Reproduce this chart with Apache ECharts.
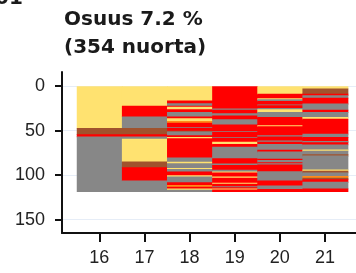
<!DOCTYPE html>
<html>
<head>
<meta charset="utf-8">
<script src="https://cdn.jsdelivr.net/npm/echarts@6/dist/echarts.min.js"></script>
<style>
  html, body { margin: 0; padding: 0; background: #fff; }
  #chart { width: 356px; height: 273px; }
</style>
</head>
<body>
<div id="chart"></div>
<script>
// ages on the x axis and tick values on the y axis
const ages = [16, 17, 18, 19, 20, 21];
const yTicks = [0, 50, 100, 150];

// states: Y = yellow, R = red, G = gray, B = brown, O = orange
const stateKeys = ['Y', 'R', 'G', 'B', 'O'];
const stateColors = ['#ffe270', '#ff0000', '#878787', '#a0522d', '#ff8c1a'];

// runs per age, from top to bottom: [state, length]
const runs16 = [['Y', 47], ['B', 7], ['R', 2.5], ['G', 61.5]];
const runs17 = [['Y', 22], ['R', 12], ['G', 13], ['B', 7], ['R', 2.5], ['G', 2.5],
  ['Y', 25.5], ['B', 6.5], ['R', 15], ['G', 12]];
const runs18 = [['Y', 16], ['R', 3], ['G', 3], ['R', 1], ['Y', 3], ['R', 3], ['G', 5],
  ['R', 2], ['Y', 3], ['O', 2], ['R', 5], ['G', 1], ['R', 3], ['B', 1], ['G', 4],
  ['R', 2], ['Y', 1.5], ['R', 21.5], ['G', 5], ['Y', 1.5], ['G', 5.5], ['Y', 1],
  ['G', 3], ['R', 4], ['Y', 1.5], ['G', 6.5], ['R', 3], ['O', 2], ['R', 2],
  ['Y', 1.5], ['G', 1.5]];
const runs19 = [['R', 25], ['G', 1.5], ['R', 4], ['G', 2.5], ['R', 4], ['G', 6],
  ['R', 7.5], ['G', 1], ['R', 5.5], ['G', 1], ['R', 4.5], ['Y', 2.5], ['R', 3],
  ['G', 13], ['R', 6], ['G', 1.5], ['R', 5.5], ['G', 2], ['Y', 1], ['R', 4.5],
  ['Y', 1.5], ['R', 5.5], ['Y', 1], ['R', 3], ['G', 1], ['R', 1.5], ['Y', 1],
  ['R', 2]];
const runs20 = [['Y', 8.5], ['R', 5], ['Y', 1], ['G', 2], ['R', 4], ['G', 1], ['R', 3],
  ['G', 1.5], ['Y', 3], ['G', 5.5], ['R', 9.5], ['Y', 1], ['R', 10], ['G', 1.5],
  ['R', 4.5], ['G', 1.5], ['R', 2.5], ['G', 6.5], ['R', 2], ['G', 8], ['R', 1.5],
  ['G', 2.5], ['R', 1], ['G', 1.5], ['R', 7.5], ['G', 10.5], ['R', 5.5], ['G', 4],
  ['R', 2.5]];
const runs21 = [['Y', 2.5], ['B', 6], ['R', 1.5], ['G', 3], ['R', 6.5], ['G', 7],
  ['R', 2.5], ['G', 5.5], ['Y', 2], ['R', 17], ['G', 3.5], ['R', 4.5], ['G', 1.5],
  ['R', 2.5], ['G', 5.5], ['Y', 1.5], ['G', 4], ['B', 1.5], ['G', 15.5], ['Y', 1.5],
  ['B', 2], ['G', 4], ['O', 2], ['B', 1.5], ['R', 3], ['G', 7.5], ['R', 3]];

const allRuns = [runs16, runs17, runs18, runs19, runs20, runs21];

// [age, start, end, stateIndex]
const cells = [];
allRuns.forEach(function (runs, i) {
  let pos = 0;
  runs.forEach(function (r) {
    cells.push([ages[i], pos, pos + r[1], stateKeys.indexOf(r[0])]);
    pos += r[1];
  });
});

function renderCell(params, api) {
  const age = api.value(0);
  const p0 = api.coord([age - 0.5, api.value(1)]);
  const p1 = api.coord([age + 0.5, api.value(2)]);
  // small overlap so neighbouring stripes leave no seams
  return {
    type: 'rect',
    shape: {
      x: p0[0],
      y: p0[1],
      width: p1[0] - p0[0] + 0.8,
      height: p1[1] - p0[1] + 0.8
    },
    style: { fill: stateColors[api.value(3)] }
  };
}

const chart = echarts.init(document.getElementById('chart'));

const labelFont = { fontFamily: 'Liberation Sans', fontSize: 18, color: '#222' };

chart.setOption({
  animation: false,
  backgroundColor: '#fff',
  title: {
    text: 'Osuus 7.2 %\n(354 nuorta)',
    left: 64,
    top: 6,
    padding: 0,
    textStyle: {
      fontFamily: 'DejaVu Sans',
      fontSize: 20,
      fontWeight: 'bold',
      lineHeight: 28,
      color: '#1a1a1a'
    }
  },
  graphic: [{
    type: 'text',
    left: -5,
    top: -11,
    style: {
      text: '01',
      fontFamily: 'DejaVu Sans',
      fontSize: 20,
      fontWeight: 'bold',
      fill: '#1a1a1a'
    }
  }],
  grid: { left: 62, right: 0, top: 72, bottom: 40 },
  xAxis: {
    type: 'value',
    position: 'bottom',
    min: 15.173,
    max: 21.687,
    axisLine: { show: true, onZero: false, lineStyle: { color: '#111', width: 2 } },
    axisTick: { show: true, length: 9, customValues: ages, lineStyle: { color: '#111', width: 2 } },
    axisLabel: Object.assign({ customValues: ages, margin: 16 }, labelFont),
    splitLine: { show: false }
  },
  yAxis: {
    type: 'value',
    inverse: true,
    min: -16,
    max: 165,
    axisLine: { show: true, onZero: false, lineStyle: { color: '#111', width: 2 } },
    axisTick: { show: true, length: 7, customValues: yTicks, lineStyle: { color: '#111', width: 2 } },
    axisLabel: Object.assign({ customValues: yTicks, margin: 17 }, labelFont),
    splitLine: { show: true, lineStyle: { color: '#e6edf7', width: 1 } }
  },
  series: [{
    type: 'custom',
    renderItem: renderCell,
    data: cells,
    encode: { x: 0, y: [1, 2] },
    silent: true
  }]
});
</script>
</body>
</html>
